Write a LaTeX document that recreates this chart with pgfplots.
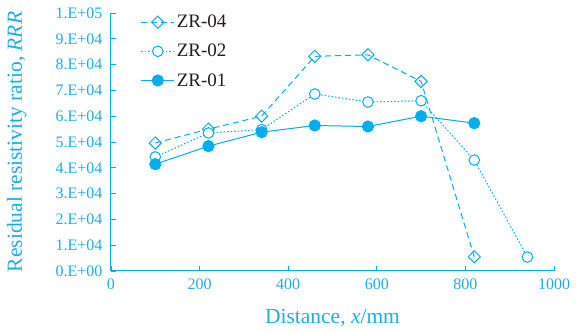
\documentclass[border=0pt]{standalone}
\usepackage{pgfplots}
\pgfplotsset{compat=1.18}
\usepackage{fontspec}
\setmainfont{Liberation Serif}
\definecolor{cy}{RGB}{0,174,239}
\definecolor{cytext}{RGB}{30,172,230}
\definecolor{lgtext}{RGB}{35,31,32}
\begin{document}
\begin{tikzpicture}
\begin{axis}[
  at={(0,0)}, anchor=south west,
  scale only axis, width=443pt, height=258pt,
  xmin=0, xmax=1000, ymin=0, ymax=100000,
  axis lines*=left,
  axis line style={cy, line width=1pt},
  xtick={0,200,...,1000},
  ytick={0,10000,...,100000},
  yticklabels={0.E+00,1.E+04,2.E+04,3.E+04,4.E+04,5.E+04,6.E+04,7.E+04,8.E+04,9.E+04,1.E+05},
  scaled y ticks=false,
  /pgf/number format/assume math mode=true,
  /pgf/number format/1000 sep={},
  tick align=inside,
  major tick length=5pt,
  tick style={cy, line width=0.8pt},
  ticklabel style={font=\fontsize{16}{18}\selectfont, text=cytext},
  xticklabel style={yshift=-4pt},
  yticklabel style={xshift=-5pt},
  xlabel={Distance, \textit{x}/mm},
  ylabel={Residual resistivity ratio, \textit{RRR}},
  label style={font=\fontsize{21.5}{24}\selectfont, text=cytext},
  xlabel style={at={(axis description cs:0.5,-0.182)}, anchor=center},
  ylabel style={at={(axis description cs:-0.213,0.5)}, anchor=center, rotate=0},
  legend style={draw=none, fill=none, at={(axis description cs:0.06,1.008)}, anchor=north west,
    font=\fontsize{19}{22}\selectfont, text=lgtext, row sep=11pt},
  legend cell align=left,
  legend image code/.code={
    \draw[#1] (0pt,0pt) -- (33pt,0pt);
    \draw[#1, solid] plot coordinates {(16.5pt,0pt)};
  },
  clip=false,
]
\addplot[cy, line width=1pt, dash pattern=on 6pt off 4pt, mark=square, mark size=4.3pt,
  mark options={solid, rotate=45, fill=white, line width=1pt}]
  coordinates {(100,49600) (220,55000) (340,60000) (460,83200) (580,83800) (700,73500) (820,5500)};
\addlegendentry{ZR-04}
\addplot[cy, line width=1pt, dash pattern=on 1.5pt off 2pt, mark=*, mark size=5.3pt,
  mark options={solid, fill=white, line width=1pt}]
  coordinates {(100,44200) (220,53500) (340,54800) (460,68600) (580,65500) (700,66000) (820,43000) (940,5400)};
\addlegendentry{ZR-02}
\addplot[cy, line width=1pt, solid, mark=*, mark size=5.6pt,
  mark options={solid, fill=cy}]
  coordinates {(100,41400) (220,48400) (340,53800) (460,56400) (580,56000) (700,60000) (820,57300)};
\addlegendentry{ZR-01}
\end{axis}
\pgfresetboundingbox
\path[use as bounding box] (-111pt,-60pt) rectangle (465pt,271pt);
\end{tikzpicture}
\end{document}
